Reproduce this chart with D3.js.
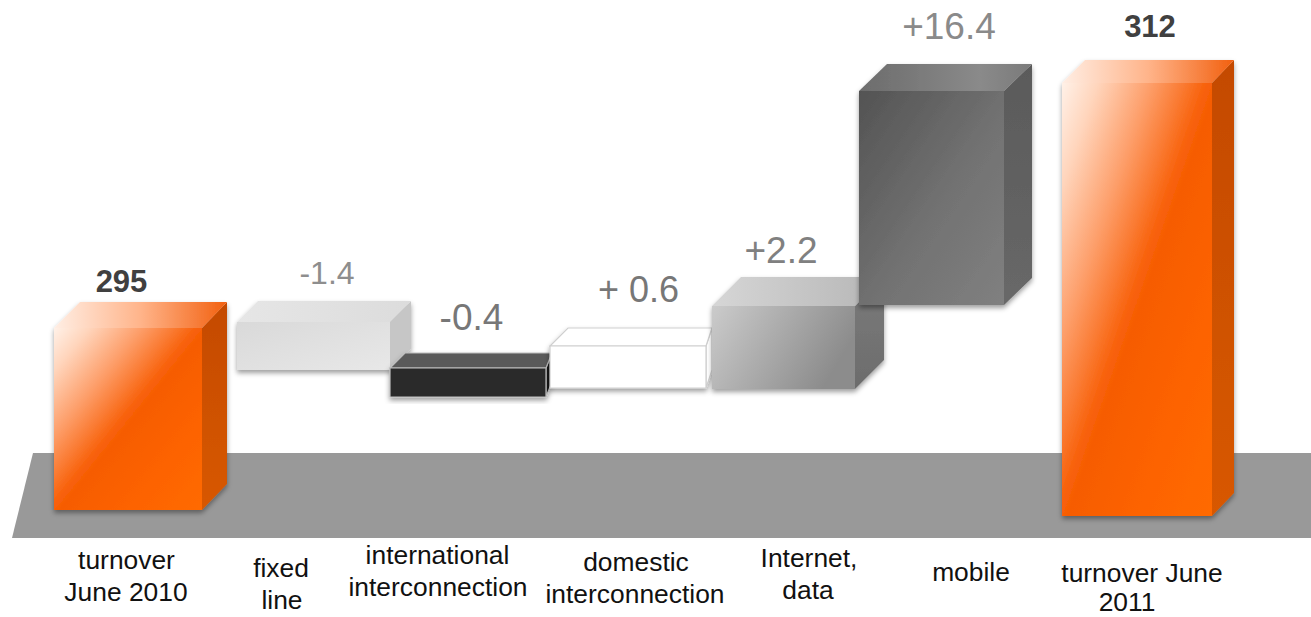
<!DOCTYPE html>
<html>
<head>
<meta charset="utf-8">
<script src="https://cdn.jsdelivr.net/npm/d3@7/dist/d3.min.js"></script>
<style>
html,body{margin:0;padding:0;background:#fff;overflow:hidden}
svg{display:block;font-family:"Liberation Sans",Arial,sans-serif}
</style>
</head>
<body>
<div id="chart"></div>
<script>
// Turnover bridge, June 2010 to June 2011
const categories = ["turnover|June 2010", "fixed|line", "international|interconnection",
  "domestic|interconnection", "Internet,|data", "mobile", "turnover June|2011"];
const barKeys = ["open", "fixed", "intl", "domestic", "internet", "mobile", "close"];
const totals = [295, 312];
const deltas = [-1.4, -0.4, 0.6, 2.2, 16.4];
const deltaLabels = ["-1.4", "-0.4", "+ 0.6", "+2.2", "+16.4"];

const width = 1311, height = 617;

// The bridge is schematic: bars float freely and the scales below are hand-fitted.
const frontLeft  = d3.scaleOrdinal(barKeys, [54, 237, 390, 550, 712, 859, 1062]);
const frontRight = d3.scaleOrdinal(barKeys, [202, 390, 546, 706, 855, 1004, 1212]);
const depthX     = d3.scaleOrdinal(barKeys, [25, 21, 6, 6, 29, 28, 22]);
const depthY     = d3.scaleOrdinal(barKeys, [26, 21, 15, 18, 29, 27, 23]);
const baseY      = d3.scaleOrdinal(barKeys, [510, 370, 397, 388, 389, 305, 516]);
const totalY     = d3.scaleLinear().domain(totals).range([328, 83]);
const deltaHeight = d3.scaleLinear()
  .domain([0, 0.4, 0.6, 1.4, 2.2, 16.4])
  .range([0, 29, 42, 48, 83, 214]);

const svg = d3.select("#chart").append("svg").attr("width", width).attr("height", height);
const defs = svg.append("defs");

const shadow = defs.append("filter").attr("id", "barShadow")
  .attr("x", "-15%").attr("y", "-15%").attr("width", "130%").attr("height", "130%");
shadow.append("feDropShadow").attr("dx", 0).attr("dy", 3).attr("stdDeviation", 2.5)
  .attr("flood-color", "#000").attr("flood-opacity", 0.38);

function gradient(id, dir, stops) {
  const g = defs.append("linearGradient").attr("id", id)
    .attr("x1", 0).attr("y1", 0).attr("x2", dir[0]).attr("y2", dir[1]);
  stops.forEach(([o, c]) => g.append("stop").attr("offset", o).attr("stop-color", c));
  return `url(#${id})`;
}
const DIAG = [1, 1], ACROSS = [1, 0], DOWN = [0, 1];

const orange = {
  front: gradient("orangeFront", DIAG, [[0, "#fff1e8"], [0.12, "#ffd5bc"], [0.3, "#fd9d68"], [0.48, "#f8620c"], [0.52, "#f65c02"], [0.75, "#fd6302"], [1, "#ff6a03"]]),
  top: gradient("orangeTop", ACROSS, [[0, "#ffeee4"], [0.5, "#ffb48a"], [1, "#f2600f"]]),
  side: gradient("orangeSide", DOWN, [[0, "#c44a02"], [1, "#d85802"]])
};
const styles = {
  open: orange,
  close: orange,
  fixed: {
    front: gradient("fixedFront", DIAG, [[0, "#d9d9d9"], [1, "#e8e8e8"]]),
    top: gradient("fixedTop", ACROSS, [[0, "#e6e6e6"], [1, "#dcdcdc"]]),
    side: "#c6c6c6"
  },
  intl: { front: "#2c2c2c", top: "#5a5a5a", side: "#141414", stroke: "#bdbdbd" },
  domestic: { front: "#ffffff", top: "#ffffff", side: "#ffffff", stroke: "#cfcfcf" },
  internet: {
    front: gradient("netFront", [1, 0.35], [[0, "#cbcbcb"], [1, "#8c8c8c"]]),
    top: gradient("netTop", ACROSS, [[0, "#d6d6d6"], [1, "#b6b6b6"]]),
    side: gradient("netSide", DOWN, [[0, "#7b7b7b"], [1, "#6c6c6c"]])
  },
  mobile: {
    front: gradient("mobFront", DIAG, [[0, "#535353"], [0.55, "#727272"], [1, "#808080"]]),
    top: gradient("mobTop", ACROSS, [[0, "#6c6c6c"], [0.7, "#8a8a8a"], [1, "#7a7a7a"]]),
    side: gradient("mobSide", DOWN, [[0, "#5a5a5a"], [1, "#686868"]])
  }
};

// Floor plane the bars stand on
svg.append("path")
  .attr("d", d3.line()([[33, 453], [width, 453], [width, 538], [12, 538]]) + "Z")
  .attr("fill", "#999999");

const rows = barKeys.map((key, i) => {
  const isOpen = i === 0, isClose = i === barKeys.length - 1;
  const value = isOpen ? totals[0] : isClose ? totals[1] : deltas[i - 1];
  const bottom = baseY(key);
  const top = isOpen || isClose ? totalY(value) : bottom - deltaHeight(Math.abs(value));
  return { key, value, x0: frontLeft(key), x1: frontRight(key), top, bottom,
           dx: depthX(key), dy: depthY(key), style: styles[key] };
});

const outline = d3.line();
const bars = svg.selectAll("g.bar").data(rows).join("g")
  .attr("class", "bar")
  .attr("filter", "url(#barShadow)");

bars.append("path").attr("class", "side")
  .attr("d", d => outline([[d.x1, d.top], [d.x1 + d.dx, d.top - d.dy], [d.x1 + d.dx, d.bottom - d.dy], [d.x1, d.bottom]]) + "Z")
  .attr("fill", d => d.style.side)
  .attr("stroke", d => d.style.stroke || "none").attr("stroke-width", 1.2);
bars.append("path").attr("class", "top")
  .attr("d", d => outline([[d.x0, d.top], [d.x0 + Math.max(d.dx, d.dy), d.top - d.dy], [d.x1 + d.dx, d.top - d.dy], [d.x1, d.top]]) + "Z")
  .attr("fill", d => d.style.top)
  .attr("stroke", d => d.style.stroke || "none").attr("stroke-width", 1.2);
bars.append("path").attr("class", "front")
  .attr("d", d => outline([[d.x0, d.top], [d.x1, d.top], [d.x1, d.bottom], [d.x0, d.bottom]]) + "Z")
  .attr("fill", d => d.style.front)
  .attr("stroke", d => d.style.stroke || "none").attr("stroke-width", 1.2);

// Value labels above the bars
const valueText = [
  { text: String(totals[0]), x: 121.5, y: 292, size: 31, bold: true, fill: "#404040" },
  { text: deltaLabels[0], x: 327, y: 284, size: 32, fill: "#8e8e8e" },
  { text: deltaLabels[1], x: 471.5, y: 330, size: 37, fill: "#777777" },
  { text: deltaLabels[2], x: 638.5, y: 302, size: 36, fill: "#777777" },
  { text: deltaLabels[3], x: 781, y: 263, size: 37, fill: "#808080" },
  { text: deltaLabels[4], x: 949, y: 39, size: 37, fill: "#8a8a8a" },
  { text: String(totals[1]), x: 1150, y: 37, size: 31, bold: true, fill: "#404040" }
];
svg.selectAll("text.value").data(valueText).join("text")
  .attr("class", "value")
  .attr("x", d => d.x).attr("y", d => d.y)
  .attr("text-anchor", "middle")
  .attr("font-size", d => d.size)
  .attr("font-weight", d => d.bold ? "bold" : "normal")
  .attr("fill", d => d.fill)
  .text(d => d.text);

// Category captions below the floor, one entry per line
const captionPlace = [
  [[126.5, 569], [126, 601]],
  [[281, 577], [282, 609]],
  [[437.5, 564], [438, 596]],
  [[636, 571], [635, 603]],
  [[809, 567], [808, 599]],
  [[971, 581]],
  [[1142, 582], [1127, 611]]
];
const captionLines = categories.flatMap((c, i) =>
  c.split("|").map((line, j) => ({ line, x: captionPlace[i][j][0], y: captionPlace[i][j][1] })));
svg.selectAll("text.caption").data(captionLines).join("text")
  .attr("class", "caption")
  .attr("x", d => d.x).attr("y", d => d.y)
  .attr("text-anchor", "middle")
  .attr("font-size", 26.4)
  .attr("fill", "#111")
  .text(d => d.line);
</script>
</body>
</html>
